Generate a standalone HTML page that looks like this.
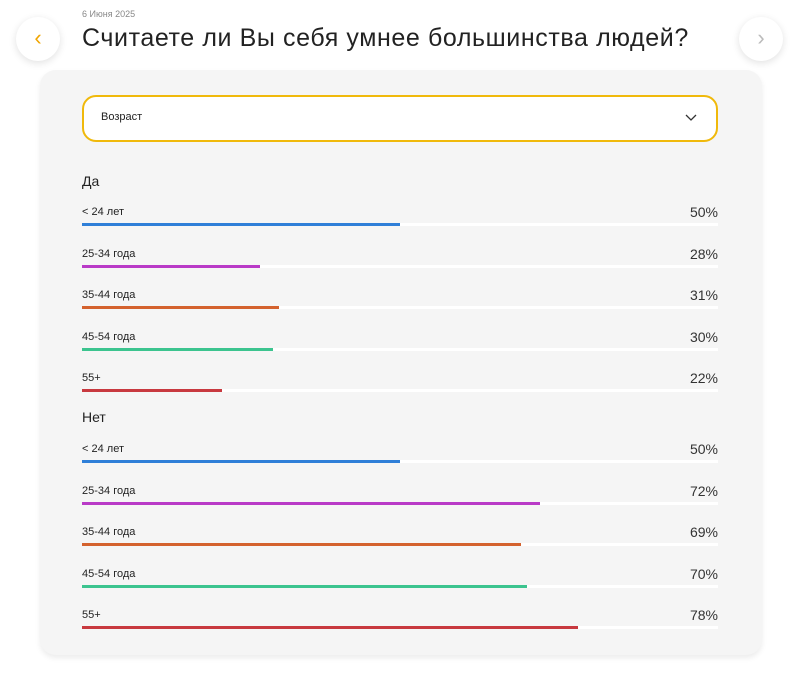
<!DOCTYPE html>
<html><head><meta charset="utf-8"><style>
body{margin:0;width:800px;height:693px;background:#fff;font-family:"Liberation Sans","DejaVu Sans",sans-serif;position:relative;overflow:hidden;color:#222}
.abs{position:absolute}
.circ{position:absolute;width:44px;height:44px;border-radius:50%;background:#fff;box-shadow:0 2px 8px rgba(0,0,0,.12);text-align:center;line-height:42px;font-size:22px}
.card{position:absolute;left:40px;top:70px;width:722px;height:585px;background:#f5f5f5;border-radius:16px;box-shadow:0 3px 6px rgba(0,0,0,.08)}
.dd{position:absolute;left:82px;top:95px;width:632px;height:43px;border:2px solid #f0b90b;border-radius:14px;background:#fff}
.lbl{position:absolute;left:82px;font-size:11px;color:#222}
.pct{position:absolute;right:82px;font-size:14px;color:#333}
.track{position:absolute;left:82px;width:636px;height:3px;background:#fff}
.bar{position:absolute;left:0;top:0;height:3px}
.h{position:absolute;left:82px;font-size:14px;color:#222}
</style></head><body>
<div class="abs" style="left:82px;top:9px;font-size:9px;color:#888">6 Июня 2025</div>
<div class="abs" style="left:82px;top:24px;font-size:25px;color:#222;letter-spacing:0.6px">Считаете ли Вы себя умнее большинства людей?</div>
<div class="circ" style="left:16px;top:17px;color:#f0a500">&#8249;</div>
<div class="circ" style="left:739px;top:17px;color:#bbb">&#8250;</div>
<div class="card"></div>
<div class="dd"><span class="abs" style="left:17px;top:14px;font-size:11px">Возраст</span>
<svg class="abs" style="left:601px;top:17px" width="12" height="8"><path d="M1 1 L6 6 L11 1" fill="none" stroke="#333" stroke-width="1.3"/></svg></div>
<div class="h" style="top:173px">Да</div>
<div class="h" style="top:409px">Нет</div>
<div id="rows"></div>
<script>
var c=["#2f7fd8","#b93ac7","#d4622e","#3cc48f","#c8393f"],n=["&lt; 24 лет","25-34 года","35-44 года","45-54 года","55+"];
var a=[50,28,31,30,22],b=[50,72,69,70,78],ya=[224,266,307,349,390],yb=[461,503,544,586,627],h="";
function r(v,y){for(var i=0;i<5;i++){h+='<div class="lbl" style="top:'+(y[i]-18)+'px">'+n[i]+'</div><div class="pct" style="top:'+(y[i]-20)+'px">'+v[i]+'%</div><div class="track" style="top:'+(y[i]-1)+'px"><div class="bar" style="width:'+(v[i]*6.36)+'px;background:'+c[i]+'"></div></div>';}}
r(a,ya);r(b,yb);document.getElementById("rows").innerHTML=h;
</script>
</body></html>
